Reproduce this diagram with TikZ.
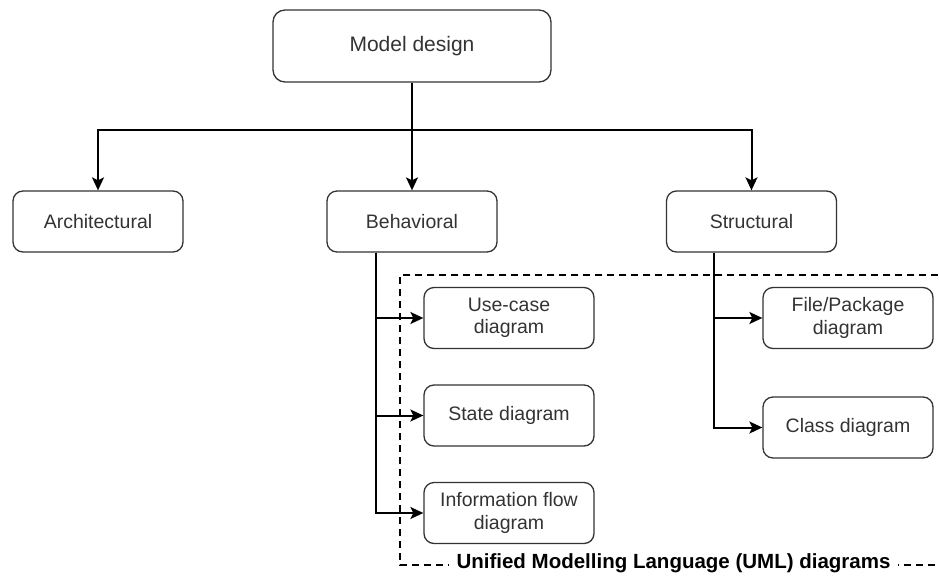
\documentclass[tikz,border=0pt]{standalone}
\usepackage{fontspec}
\setmainfont{Liberation Sans}
\usetikzlibrary{arrows.meta}

\definecolor{boxline}{HTML}{333333}
\definecolor{boxtext}{HTML}{333333}

\tikzset{
  kind/.style={draw=boxline,line width=1.3pt,rounded corners=10pt,
    minimum width=170pt,minimum height=61pt,align=center,
    text=boxtext,font=\fontsize{19.5}{22.5}\selectfont},
  branch/.style={-{Stealth[length=13pt,width=12pt,inset=3pt]},line width=2pt,black},
  umlframe/.style={dash pattern=on 7pt off 5pt,line width=2pt}
}

\begin{document}
\begin{tikzpicture}
\pgfsetxvec{\pgfpoint{1pt}{0}}
\pgfsetyvec{\pgfpoint{0}{-1pt}}
  \useasboundingbox (0,0) rectangle (939,576);
  % top level
  \node[kind,minimum width=278pt,minimum height=72pt,rounded corners=12pt,
    font=\fontsize{21}{24}\selectfont] (model) at (412,46) {Model design};
  \node[kind] (arch) at (98,221.5) {Architectural};
  \node[kind] (behav) at (412,221.5) {Behavioral};
  \node[kind] (struct) at (751.5,221.5) {Structural};
  % UML diagrams
  \node[kind] (usecase) at (509,318) {Use-case\\diagram};
  \node[kind] (state) at (509,415.5) {State diagram};
  \node[kind] (info) at (509,513) {Information flow\\diagram};
  \node[kind] (filepkg) at (848,318) {File/Package\\diagram};
  \node[kind] (class) at (848,427.5) {Class diagram};
  % frame round the UML diagrams
  \draw[umlframe] (950,275) -- (400,275) -- (400,565) -- (950,565);
  \node[fill=white,inner xsep=8pt,inner ysep=2pt,
    font=\fontsize{20.5}{24}\bfseries\selectfont] (umllabel) at (673.5,563)
    {Unified Modelling Language (UML) diagrams};
  % tree
  \coordinate (split) at (412,130);
  \draw[line width=2pt] (model.south) -- (split);
  \draw[branch] (split) -| (arch.north);
  \draw[branch] (split) -- (behav.north);
  \draw[branch] (split) -| (struct.north);
  \draw[branch] ([xshift=-36pt]behav.south) |- (usecase.west);
  \draw[branch] ([xshift=-36pt]behav.south) |- (state.west);
  \draw[branch] ([xshift=-36pt]behav.south) |- (info.west);
  \draw[branch] ([xshift=-37.5pt]struct.south) |- (filepkg.west);
  \draw[branch] ([xshift=-37.5pt]struct.south) |- (class.west);
\end{tikzpicture}
\end{document}
